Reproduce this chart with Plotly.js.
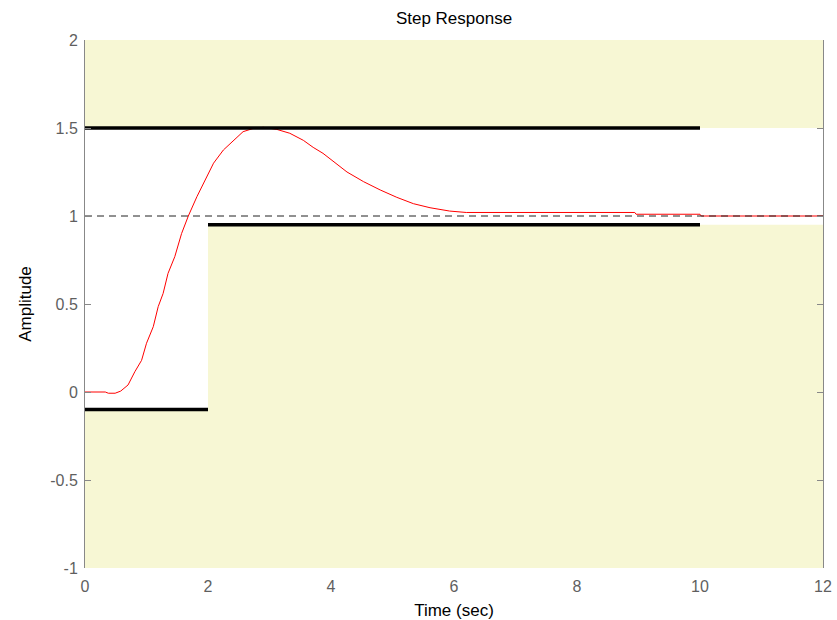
<!DOCTYPE html>
<html>
<head>
<meta charset="utf-8">
<script src="https://cdn.plot.ly/plotly-3.0.1.min.js"></script>
<style>html,body{margin:0;padding:0;background:#fff;}#chart{width:837px;height:620px;}</style>
</head>
<body>
<div id="chart"></div>
<script>
// Step response samples (time in sec, amplitude)
const timeSec = [0, 0.33, 0.38, 0.49, 0.58, 0.70, 0.81, 0.92, 1.00, 1.11, 1.19, 1.27, 1.35, 1.46, 1.57, 1.68, 1.82, 1.95, 2.09, 2.25, 2.41, 2.57, 2.74, 2.90, 3.12, 3.33, 3.55, 3.71, 3.87, 4.04, 4.26, 4.53, 4.80, 5.07, 5.34, 5.61, 5.93, 6.20, 8.94, 8.96, 10.0, 10.02, 12.0];
const amplitude = [0, 0, -0.007, -0.007, 0.005, 0.04, 0.115, 0.18, 0.277, 0.371, 0.485, 0.56, 0.674, 0.769, 0.90, 1.0, 1.11, 1.205, 1.30, 1.375, 1.43, 1.479, 1.498, 1.504, 1.492, 1.47, 1.43, 1.39, 1.356, 1.31, 1.25, 1.195, 1.148, 1.106, 1.07, 1.047, 1.028, 1.02, 1.02, 1.01, 1.01, 1.0, 1.0];

// Steady-state reference
const finalT = [0, 12];
const finalY = [1, 1];

// Design constraint bounds (black segments)
const upperBoundT = [0, 10];
const upperBoundY = [1.5, 1.5];
const lowerBoundT = [0, 2, null, 2, 10];
const lowerBoundY = [-0.1, -0.1, null, 0.95, 0.95];

// Forbidden (shaded) regions
const upperRegionT = [0, 12, 12, 0, 0];
const upperRegionY = [1.5, 1.5, 2, 2, 1.5];
const lowerRegionT = [0, 0, 2, 2, 12, 12, 0];
const lowerRegionY = [-1, -0.1, -0.1, 0.95, 0.95, -1, -1];

const xTicks = [0, 2, 4, 6, 8, 10, 12];
const yTicks = [-1, -0.5, 0, 0.5, 1, 1.5, 2];
const yTickText = ['-1', '-0.5', '0', '0.5', '1', '1.5', '2'];

const shade = '#F7F7D4';
const traces = [
  {x: upperRegionT, y: upperRegionY, type: 'scatter', mode: 'lines', fill: 'toself', fillcolor: shade, line: {width: 0, color: shade}, hoverinfo: 'skip'},
  {x: lowerRegionT, y: lowerRegionY, type: 'scatter', mode: 'lines', fill: 'toself', fillcolor: shade, line: {width: 0, color: shade}, hoverinfo: 'skip'},
  {x: timeSec, y: amplitude, type: 'scatter', mode: 'lines', line: {color: '#FF0000', width: 1}},
  {x: finalT, y: finalY, type: 'scatter', mode: 'lines', line: {color: '#222222', width: 1, dash: '7px,5px'}},
  {x: upperBoundT, y: upperBoundY, type: 'scatter', mode: 'lines', line: {color: '#000000', width: 3.5}, connectgaps: false},
  {x: lowerBoundT, y: lowerBoundY, type: 'scatter', mode: 'lines', line: {color: '#000000', width: 3.5}, connectgaps: false}
];

const layout = {
  width: 837, height: 620,
  margin: {l: 85, r: 14, t: 40, b: 52},
  paper_bgcolor: '#ffffff', plot_bgcolor: '#ffffff',
  showlegend: false,
  font: {family: 'Liberation Sans, Arial, sans-serif', size: 14, color: '#000'},
  title: {text: 'Step Response', font: {size: 17, color: '#000'}, xref: 'paper', x: 0.5, xanchor: 'center', yref: 'container', y: 0.971, yanchor: 'middle'},
  xaxis: {
    range: [0, 12], tickvals: xTicks, ticktext: xTicks.map(String),
    showgrid: false, zeroline: false, showline: false,
    ticks: 'outside', ticklen: 4, tickcolor: 'rgba(0,0,0,0)',
    tickfont: {size: 16, color: '#5f5f5f'},
    title: {text: 'Time (sec)', font: {size: 17, color: '#000'}, standoff: 11}
  },
  yaxis: {
    range: [-1, 2], tickvals: yTicks, ticktext: yTickText,
    showgrid: false, zeroline: false, showline: true, linecolor: '#888', linewidth: 1,
    mirror: 'ticks', ticks: 'inside', ticklen: 6, tickcolor: '#888',
    tickfont: {size: 16, color: '#5f5f5f'}, ticklabelstandoff: 3,
    title: {text: 'Amplitude', font: {size: 17, color: '#000'}, standoff: 14}
  }
};

Plotly.newPlot('chart', traces, layout, {staticPlot: true, displayModeBar: false});
</script>
</body>
</html>
